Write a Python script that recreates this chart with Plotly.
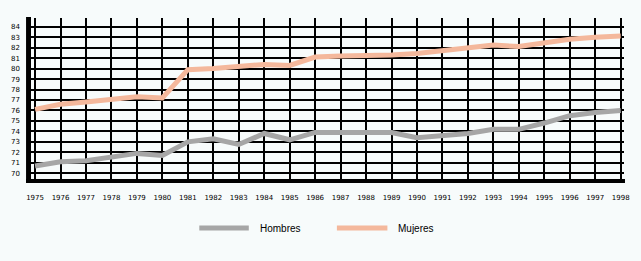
import plotly.graph_objects as go

years = list(range(1975, 1999))
hombres = [70.7, 71.1, 71.2, 71.6, 71.9, 71.7, 73.0, 73.3, 72.75, 73.8, 73.2, 73.9,
           73.9, 73.9, 73.9, 73.4, 73.55, 73.8, 74.2, 74.2, 74.8, 75.5, 75.8, 76.0]
mujeres = [76.1, 76.6, 76.8, 77.0, 77.3, 77.2, 79.9, 80.0, 80.2, 80.4, 80.3, 81.1,
           81.2, 81.2, 81.3, 81.45, 81.7, 81.9, 82.25, 82.1, 82.5, 82.8, 83.0, 83.1]
y_ticks = list(range(70, 85))
series_names = ["Hombres", "Mujeres"]
colors = ["#a6a6a6", "#f4b89c"]

W, H = 641, 261
L, R, T, B = 31, 11, 18, 81
PW, PH = W - L - R, H - T - B

def px(x):
    return (x - L) / PW

def py(y):
    return (H - B - y) / PH

fig = go.Figure()
for name, vals, c in zip(series_names, [hombres, mujeres], colors):
    fig.add_trace(go.Scatter(x=years, y=vals, mode="lines", name=name,
                             line=dict(color=c, width=5), showlegend=False))

shapes = [
    # left thick axis bar
    dict(type="rect", xref="paper", yref="paper", x0=px(26), x1=px(31), y0=py(183), y1=py(17),
         fillcolor="black", line=dict(width=0), layer="above"),
    # bottom thick axis bar
    dict(type="rect", xref="paper", yref="paper", x0=px(26), x1=px(631), y0=py(183), y1=py(179),
         fillcolor="black", line=dict(width=0), layer="above"),
]
annotations = []
leg = [(201, 251, 260), (340, 391, 400)]
for (x0, x1, xt), name, c in zip(leg, series_names, colors):
    shapes.append(dict(type="line", xref="paper", yref="paper", x0=px(x0), x1=px(x1),
                       y0=py(228), y1=py(228), line=dict(color=c, width=5)))
    annotations.append(dict(text=name, xref="paper", yref="paper", x=px(xt), y=py(228),
                            xanchor="left", yanchor="middle", showarrow=False,
                            font=dict(size=10, color="black", family="Liberation Sans")))

fig.update_layout(
    width=W, height=H,
    margin=dict(l=L, r=R, t=T, b=B),
    paper_bgcolor="#f7fbfb", plot_bgcolor="#f7fbfb",
    shapes=shapes, annotations=annotations,
    xaxis=dict(range=[1974.84, 1998.13], tickmode="array", tickvals=years,
               ticktext=[str(y) for y in years], showgrid=True, gridcolor="black",
               gridwidth=1.5, zeroline=False, showline=False, ticks="",
               ticklabelstandoff=12,
               tickfont=dict(size=7, family="DejaVu Sans", color="black")),
    yaxis=dict(range=[69.36, 84.83], tickmode="array", tickvals=y_ticks,
               ticktext=[str(v) for v in y_ticks], showgrid=True, gridcolor="black",
               gridwidth=1.5, zeroline=False, showline=False, ticks="",
               ticklabelstandoff=10,
               tickfont=dict(size=7, family="DejaVu Sans", color="black")),
)

fig.write_html("out.html")
